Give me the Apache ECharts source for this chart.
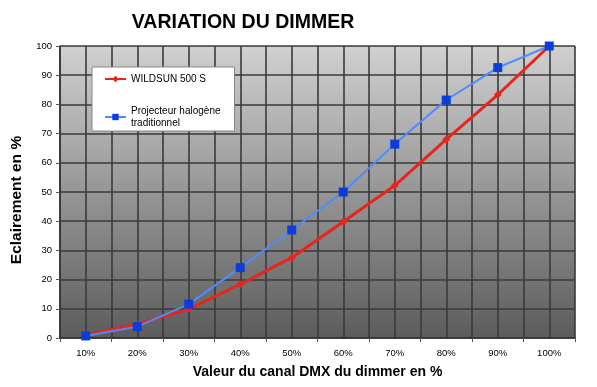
<!DOCTYPE html>
<html><head><meta charset="utf-8">
<script src="https://cdn.jsdelivr.net/npm/echarts@6/dist/echarts.min.js"></script>
<style>html,body{margin:0;padding:0;background:#fff}#c{width:597px;height:387px}</style>
</head><body><div id="c"></div>
<script>
var categories = ['10%','20%','30%','40%','50%','60%','70%','80%','90%','100%'];
var wildsun = [1, 4.7, 9.9, 18.4, 27.5, 39.8, 52.2, 68, 83.3, 100];
var halogene = [0.7, 3.9, 11.6, 24.1, 37, 50, 66.4, 81.5, 92.6, 100];
var seriesNames = ['WILDSUN 500 S', 'Projecteur halogène traditionnel'];

var chart = echarts.init(document.getElementById('c'));
chart.setOption({
  animation: false,
  title: {
    text: 'VARIATION DU DIMMER', left: 238, top: 8, textAlign: 'center',
    textStyle: {fontFamily: 'Liberation Sans', fontWeight: 'bold', fontSize: 19.5, color: '#000'}
  },
  graphic: [{
    type: 'text', x: 17, y: 200, rotation: Math.PI / 2,
    style: {text: 'Eclairement en %', fontFamily: 'Liberation Sans', fontWeight: 'bold', fontSize: 15.5,
      fill: '#000', align: 'center', verticalAlign: 'middle'}
  }],
  grid: {
    left: 60, right: 22, top: 46, bottom: 49, show: true, borderWidth: 0,
    backgroundColor: new echarts.graphic.LinearGradient(0, 0, 0, 1, [
      {offset: 0, color: '#d0d0d0'}, {offset: 1, color: '#5c5c5c'}
    ])
  },
  legend: {
    left: 92, top: 67, orient: 'vertical',
    backgroundColor: '#fff', borderColor: '#888', borderWidth: 1,
    padding: [6, 14, 2, 12], itemGap: 20, itemWidth: 21, itemHeight: 8,
    formatter: function (n) { return n === seriesNames[1] ? 'Projecteur halogène\ntraditionnel' : n; },
    textStyle: {fontFamily: 'Liberation Sans', fontSize: 10, color: '#000', lineHeight: 12},
    data: seriesNames
  },
  xAxis: [{
    type: 'category', data: categories, boundaryGap: true,
    name: 'Valeur du canal DMX du dimmer en %', nameLocation: 'middle', nameGap: 27,
    nameTextStyle: {fontFamily: 'Liberation Sans', fontWeight: 'bold', fontSize: 14, color: '#000'},
    axisLine: {lineStyle: {color: '#333', width: 1.5}},
    axisTick: {show: true, length: 4, lineStyle: {color: '#555'}},
    axisLabel: {fontFamily: 'Liberation Sans', fontSize: 9.5, color: '#000', margin: 10},
    splitLine: {show: false}
  }, {
    type: 'value', min: 0, max: 20, interval: 1, position: 'bottom', show: true,
    axisLine: {show: false}, axisTick: {show: false}, axisLabel: {show: false},
    splitLine: {show: true, lineStyle: {color: '#3a3a3a', width: 1.6}}
  }],
  yAxis: {
    type: 'value', min: 0, max: 100, interval: 10,
    axisLine: {show: true, lineStyle: {color: '#333', width: 1.5}},
    axisTick: {show: true, length: 4, lineStyle: {color: '#555'}},
    axisLabel: {fontFamily: 'Liberation Sans', fontSize: 9.5, color: '#000', margin: 8},
    splitLine: {show: true, lineStyle: {color: '#3a3a3a', width: 1.6}}
  },
  series: [{
    name: seriesNames[0], type: 'line', data: wildsun, xAxisIndex: 0,
    symbol: 'diamond', symbolSize: 8,
    lineStyle: {color: '#e8251c', width: 3},
    itemStyle: {color: '#e8251c'}
  }, {
    name: seriesNames[1], type: 'line', data: halogene, xAxisIndex: 0,
    symbol: 'rect', symbolSize: 9,
    lineStyle: {color: '#4d8cff', width: 2},
    itemStyle: {color: '#0a3ddc'}
  }]
});
</script></body></html>
